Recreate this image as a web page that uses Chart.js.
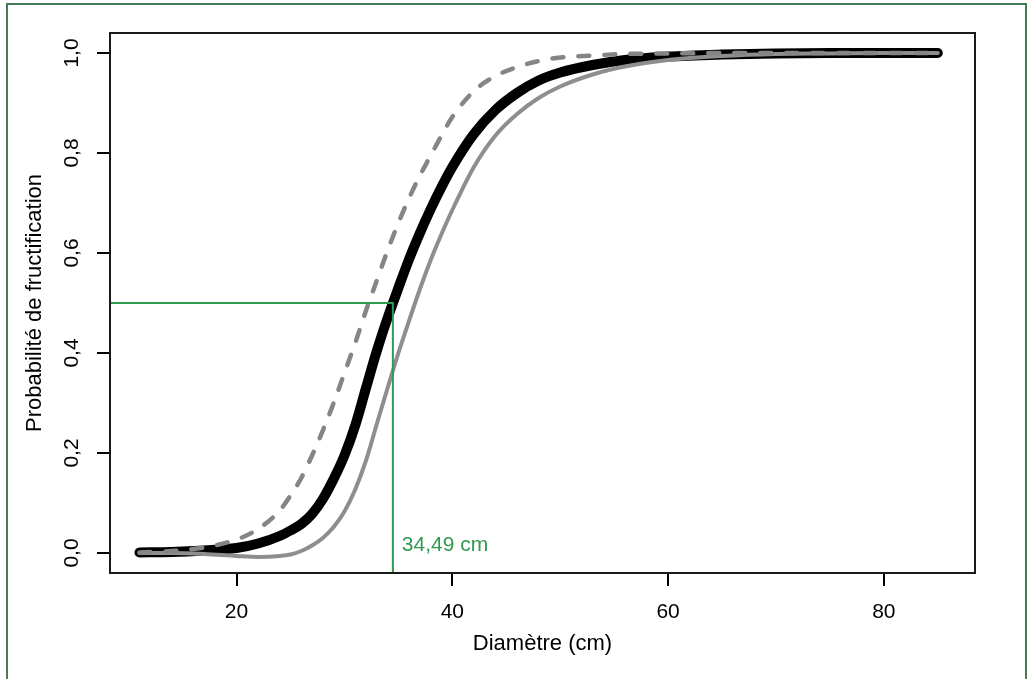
<!DOCTYPE html>
<html><head><meta charset="utf-8">
<script src="https://cdn.jsdelivr.net/npm/chart.js@4.4.1/dist/chart.umd.min.js"></script>
<style>html,body{margin:0;padding:0;background:#fff}canvas{display:block}</style>
</head><body>
<canvas id="c" width="1028" height="679"></canvas>
<script>
// ---- data ----
const diametre = [11, 14, 17, 20, 22, 24, 25, 26, 27, 28, 29, 30, 31, 32, 33, 34, 35, 36, 37, 38, 39, 40, 42, 44, 46, 48, 50, 53, 56, 60, 65, 70, 75, 80, 85];
const probMoyenne = [0.001, 0.002, 0.005, 0.010, 0.019, 0.034, 0.045, 0.058, 0.078, 0.108, 0.148, 0.195, 0.255, 0.330, 0.404, 0.470, 0.530, 0.588, 0.640, 0.688, 0.732, 0.772, 0.838, 0.886, 0.920, 0.945, 0.961, 0.976, 0.986, 0.993, 0.997, 0.999, 1.000, 1.000, 1.000];
const probHaute = [0.001, 0.004, 0.011, 0.027, 0.048, 0.085, 0.115, 0.150, 0.195, 0.245, 0.300, 0.360, 0.420, 0.485, 0.545, 0.605, 0.660, 0.710, 0.755, 0.795, 0.835, 0.872, 0.924, 0.954, 0.972, 0.984, 0.991, 0.995, 0.998, 0.999, 1.000, 1.000, 1.000, 1.000, 1.000];
const probBasse = [0.000, 0.000, -0.002, -0.006, -0.008, -0.006, -0.003, 0.004, 0.015, 0.030, 0.052, 0.083, 0.127, 0.185, 0.258, 0.330, 0.400, 0.465, 0.528, 0.586, 0.638, 0.686, 0.772, 0.835, 0.878, 0.910, 0.933, 0.957, 0.973, 0.986, 0.994, 0.998, 0.999, 1.000, 1.000];
const xTicks = [20, 40, 60, 80];
const xTickLabels = ['20', '40', '60', '80'];
const yTicks = [0, 0.2, 0.4, 0.6, 0.8, 1.0];
const yTickLabels = ['0,0', '0,2', '0,4', '0,6', '0,8', '1,0'];
const xRange = [8.27, 88.45];
const yRange = [-0.04, 1.04];
const seuilDiametre = 34.49;
const seuilProb = 0.5;
const seuilLabel = '34,49 cm';
const seuilLabelY = 0.005;
const xTitle = 'Diamètre (cm)';
const yTitle = 'Probabilité de fructification';

// ---- chart ----
const FONT = '"Liberation Sans", Arial, Helvetica, sans-serif';
const GREEN = '#2f9a50';
const pts = ys => diametre.map((x, i) => ({x: x, y: ys[i]}));

const decor = {
  id: 'decor',
  beforeDraw(chart) {
    const c = chart.ctx;
    c.save();
    c.fillStyle = '#fff';
    c.fillRect(0, 0, chart.width, chart.height);
    c.strokeStyle = '#467a54';
    c.lineWidth = 2;
    c.strokeRect(7, 4, 1019, 700);
    c.restore();
  },
  afterDatasetsDraw(chart) {
    const c = chart.ctx;
    const xs = chart.scales.x, ys = chart.scales.y;
    c.save();
    c.fillStyle = GREEN;
    c.font = '21px ' + FONT;
    c.textBaseline = 'alphabetic';
    c.textAlign = 'left';
    c.fillText(seuilLabel, xs.getPixelForValue(seuilDiametre) + 9, ys.getPixelForValue(seuilLabelY));
    c.restore();
  },
  afterDraw(chart) {
    const c = chart.ctx, a = chart.chartArea;
    c.save();
    c.strokeStyle = '#1a1a1a';
    c.lineWidth = 2;
    c.strokeRect(a.left, a.top, a.right - a.left, a.bottom - a.top);
    c.restore();
  }
};

const curve = (data, color, width, dash) => ({
  data: data, borderColor: color, borderWidth: width, borderDash: dash || [],
  borderCapStyle: 'round', borderJoinStyle: 'round',
  cubicInterpolationMode: 'monotone', pointRadius: 0, fill: false
});

new Chart(document.getElementById('c'), {
  type: 'line',
  data: {
    datasets: [
      {data: [{x: xRange[0], y: seuilProb}, {x: seuilDiametre, y: seuilProb}, {x: seuilDiametre, y: yRange[0]}],
       borderColor: GREEN, borderWidth: 2, tension: 0, pointRadius: 0, fill: false},
      curve(pts(probHaute), '#858585', 4.5, [11, 15]),
      curve(pts(probBasse), '#8e8e8e', 4),
      curve(pts(probMoyenne), '#000000', 10)
    ]
  },
  options: {
    responsive: false, animation: false, devicePixelRatio: 1,
    layout: {padding: {left: 0, top: 33, right: 53, bottom: 0}, autoPadding: false},
    plugins: {legend: {display: false}, tooltip: {enabled: false}},
    scales: {
      x: {
        type: 'linear', min: xRange[0], max: xRange[1],
        afterBuildTicks: s => { s.ticks = xTicks.map(v => ({value: v})); },
        afterFit: s => { s.height = 106; },
        ticks: {callback: (v, i) => xTickLabels[i], font: {family: FONT, size: 21}, color: '#000', padding: 14, maxRotation: 0, autoSkip: false},
        grid: {drawOnChartArea: false, drawTicks: true, tickLength: 13, color: '#000', lineWidth: 2},
        border: {display: false},
        title: {display: true, text: xTitle, font: {family: FONT, size: 22}, color: '#000', padding: {top: 0, bottom: 21.7}}
      },
      y: {
        type: 'linear', min: yRange[0], max: yRange[1],
        afterBuildTicks: s => { s.ticks = yTicks.map(v => ({value: v})); },
        afterFit: s => { s.width = 110; },
        ticks: {callback: (v, i) => yTickLabels[i], font: {family: FONT, size: 21}, color: '#000', padding: 10, minRotation: 90, maxRotation: 90, crossAlign: 'center', autoSkip: false},
        grid: {drawOnChartArea: false, drawTicks: true, tickLength: 13, color: '#000', lineWidth: 2},
        border: {display: false},
        title: {display: true, text: yTitle, font: {family: FONT, size: 22}, color: '#000', padding: {top: 21.3, bottom: 0}}
      }
    }
  },
  plugins: [decor]
});
</script>
</body></html>
